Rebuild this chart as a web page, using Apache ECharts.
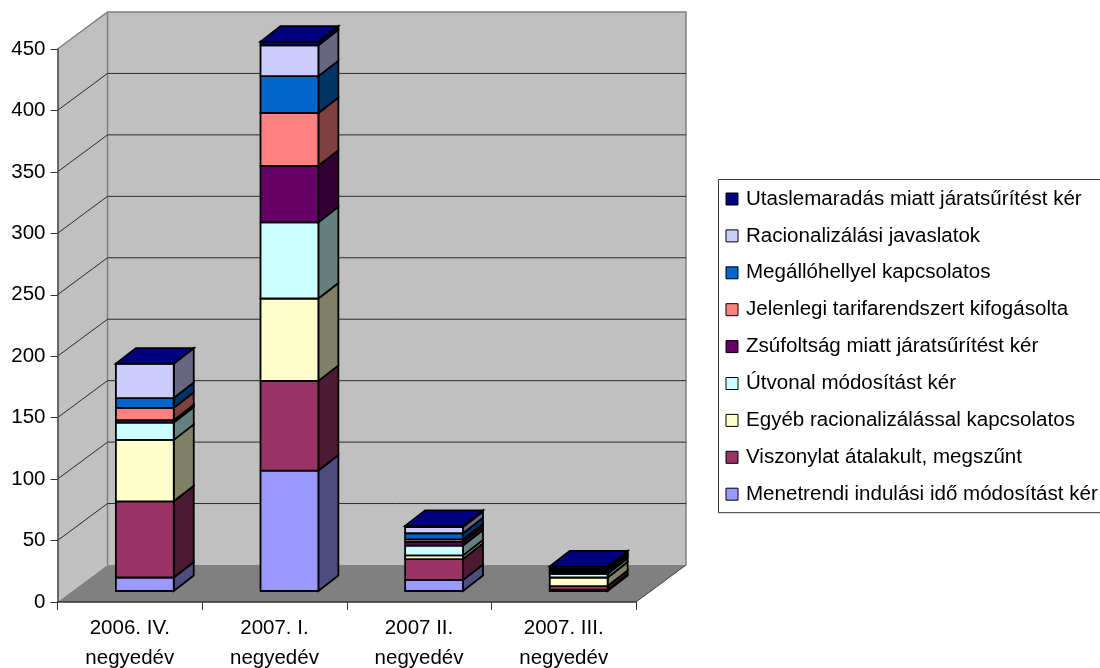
<!DOCTYPE html>
<html><head><meta charset="utf-8">
<style>html,body{margin:0;padding:0;background:#fff}#c{width:1100px;height:668px}</style>
<script src="https://cdn.jsdelivr.net/npm/echarts@6/dist/echarts.min.js"></script>
</head><body><div id="c"></div>
<script>
const categories = ['2006. IV.\nnegyedév','2007. I.\nnegyedév','2007 II.\nnegyedév','2007. III.\nnegyedév'];
const yTicks = [0,50,100,150,200,250,300,350,400,450];
const menetrendi   = [11, 98, 9, 1];
const viszonylat   = [62, 73, 17, 3];
const egyeb        = [50, 67, 3, 7];
const utvonal      = [14, 62, 8, 3];
const zsufoltsag   = [2, 46, 3, 1];
const tarifa       = [10, 43, 2, 1];
const megallo      = [8, 30, 5, 1];
const javaslatok   = [28, 25, 5, 1];
const utaslemaradas= [0, 3, 1, 2];

const seriesNames = ['Menetrendi indulási idő módosítást kér','Viszonylat átalakult, megszűnt','Egyéb racionalizálással kapcsolatos','Útvonal módosítást kér','Zsúfoltság miatt járatsűrítést kér','Jelenlegi tarifarendszert kifogásolta','Megállóhellyel kapcsolatos','Racionalizálási javaslatok','Utaslemaradás miatt járatsűrítést kér'];
const seriesValues = [menetrendi,viszonylat,egyeb,utvonal,zsufoltsag,tarifa,megallo,javaslatok,utaslemaradas];
const frontColors = ['#9999FF','#993366','#FFFFCC','#CCFFFF','#660066','#FF8080','#0066CC','#CCCCFF','#000080'];
const sideColors  = ['#4D4D80','#4D1A33','#808066','#668080','#330033','#804040','#003366','#666680','#000040'];

const WALL_DX = 50, WALL_DY = 37;
const BAR_SHIFT_X = 15, BAR_SHIFT_Y = 11, BAR_DX = 20, BAR_DY = 15.5, BAR_FRAC = 0.4;
const FONT = '"Liberation Sans", Arial, sans-serif';

const chart = echarts.init(document.getElementById('c'), null, {renderer:'canvas'});

function poly(points, fill, stroke, lw){
  return {type:'polygon', shape:{points}, style:{fill, stroke:stroke||null, lineWidth:lw||0, lineJoin:'miter'}, silent:true};
}
function line(points, stroke, lw){
  return {type:'polyline', shape:{points}, style:{fill:null, stroke, lineWidth:lw}, silent:true};
}

function renderWalls(params, api){
  const band = api.size([1,0])[0];
  const x0 = api.coord([0,0])[0]-band/2, x1 = api.coord([categories.length-1,0])[0]+band/2;
  const yb = api.coord([0,0])[1], yt = api.coord([0,450])[1];
  const dx = WALL_DX, dy = WALL_DY;
  return {type:'group', children:[
    poly([[x0+dx,yt-dy],[x1+dx,yt-dy],[x1+dx,yb-dy],[x0+dx,yb-dy]],'#C0C0C0'),
    poly([[x0,yt],[x0+dx,yt-dy],[x0+dx,yb-dy],[x0,yb]],'#C0C0C0'),
    poly([[x0,yb],[x0+dx,yb-dy],[x1+dx,yb-dy],[x1,yb]],'#808080'),
    line([[x0,yt],[x0+dx,yt-dy],[x1+dx,yt-dy],[x1+dx,yb-dy]],'#808080',1.5),
    line([[x0+dx,yt-dy],[x0+dx,yb-dy]],'#808080',1.5),
    line([[x1,yb],[x1+dx,yb-dy]],'#404040',1)
  ]};
}
function renderGrid(params, api){
  const v = api.value(0);
  const band = api.size([1,0])[0];
  const x0 = api.coord([0,0])[0]-band/2, x1 = api.coord([categories.length-1,0])[0]+band/2;
  const y = api.coord([0,v])[1];
  return line([[x0,y],[x0+WALL_DX,y-WALL_DY],[x1+WALL_DX,y-WALL_DY]],'#2a2a2a',1);
}
function renderBar(s){
  return function(params, api){
    const i = api.value(0), lo = api.value(1), hi = api.value(2);
    const band = api.size([1,0])[0], w = band*BAR_FRAC;
    const cx = api.coord([i,0])[0]+BAR_SHIFT_X;
    const yl = api.coord([i,lo])[1]-BAR_SHIFT_Y, yh = api.coord([i,hi])[1]-BAR_SHIFT_Y;
    const a = cx-w/2, b = cx+w/2, lw = 1.8, k = '#000';
    const ch = [
      poly([[b,yl],[b+BAR_DX,yl-BAR_DY],[b+BAR_DX,yh-BAR_DY],[b,yh]],sideColors[s],k,lw),
      poly([[a,yl],[b,yl],[b,yh],[a,yh]],frontColors[s],k,lw)
    ];
    if (s === seriesNames.length-1) ch.push(poly([[a,yh],[b,yh],[b+BAR_DX,yh-BAR_DY],[a+BAR_DX,yh-BAR_DY]],frontColors[s],k,lw));
    return {type:'group', children:ch};
  };
}

const series = [
  {type:'custom', name:'walls', z:1, silent:true, renderItem:renderWalls, data:[[0]], encode:{x:0,y:0}, animation:false},
  {type:'custom', name:'gridlines', z:2, silent:true, renderItem:renderGrid, data:yTicks.filter(v=>v>0&&v<450).map(v=>[v]), encode:{y:0}, animation:false}
];
const totals = categories.map(()=>0);
seriesNames.forEach((name,s)=>{
  const data = categories.map((c,i)=>{ const lo = totals[i]; totals[i]+=seriesValues[s][i]; return [i,lo,totals[i]]; });
  series.push({type:'custom', name, z:5, silent:true, renderItem:renderBar(s), data, encode:{x:0,y:[1,2]},
    itemStyle:{color:frontColors[s], borderColor:'#000', borderWidth:1}, animation:false});
});

chart.setOption({
  animation:false,
  backgroundColor:'#fff',
  grid:{left:57.5, top:49, width:578.5, height:553, containLabel:false, outerBoundsMode:'none'},
  xAxis:{type:'category', data:categories, z:10, boundaryGap:true,
    axisLine:{lineStyle:{color:'#333',width:1.5}}, axisTick:{show:true,alignWithLabel:false,length:8,lineStyle:{color:'#333',width:1}},
    axisLabel:{interval:0,color:'#000',fontFamily:FONT,fontSize:20.5,lineHeight:30,margin:11,hideOverlap:false}},
  yAxis:{type:'value', min:0, max:450, interval:50, z:10,
    axisLine:{show:true,lineStyle:{color:'#444',width:1.5}}, axisTick:{show:true,length:7,lineStyle:{color:'#333',width:1}},
    splitLine:{show:false},
    axisLabel:{color:'#000',fontFamily:FONT,fontSize:20.5,margin:12}},
  legend:{orient:'vertical', left:718.5, top:179.5, padding:[9,12,8,7], icon:'rect', itemWidth:12, itemHeight:12, itemGap:15.9,
    backgroundColor:'#fff', borderColor:'#333', borderWidth:1, selectedMode:false, z:20,
    data:seriesNames.slice().reverse(),
    textStyle:{color:'#000',fontFamily:FONT,fontSize:20.55,padding:[0,0,0,3]},
    itemStyle:{borderColor:'#000',borderWidth:1}},
  series
});
</script></body></html>
